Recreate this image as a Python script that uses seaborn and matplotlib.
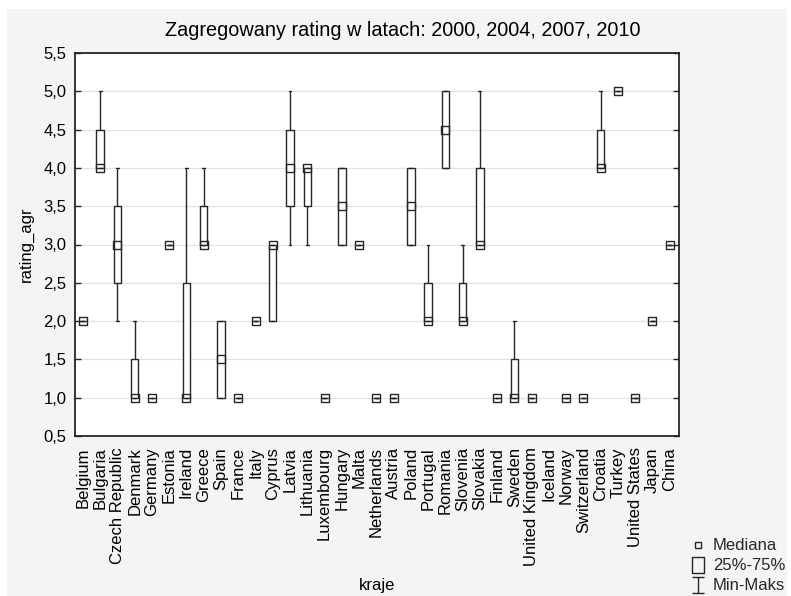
import numpy as np
import pandas as pd
import matplotlib
matplotlib.use("Agg")
import matplotlib.pyplot as plt
from matplotlib.path import Path
from matplotlib.lines import Line2D
from matplotlib.patches import Rectangle
from matplotlib.ticker import FixedLocator, FuncFormatter
import seaborn as sns

# Aggregated rating per country over the years 2000, 2004, 2007, 2010
countries = [
    "Belgium", "Bulgaria", "Czech Republic", "Denmark", "Germany", "Estonia",
    "Ireland", "Greece", "Spain", "France", "Italy", "Cyprus", "Latvia",
    "Lithuania", "Luxembourg", "Hungary", "Malta", "Netherlands", "Austria",
    "Poland", "Portugal", "Romania", "Slovenia", "Slovakia", "Finland",
    "Sweden", "United Kingdom", "Iceland", "Norway", "Switzerland", "Croatia",
    "Turkey", "United States", "Japan", "China",
]
nan = np.nan
r_min = [2, 4, 2, 1, 1, 3, 1, 3, 1, 1, 2, 2, 3, 3, 1, 3, 3, 1, 1, 3, 2, 4, 2, 3,
         1, 1, 1, nan, 1, 1, 4, 5, 1, 2, 3]
r_q1 = [2, 4, 2.5, 1, 1, 3, 1, 3, 1, 1, 2, 2, 3.5, 3.5, 1, 3, 3, 1, 1, 3, 2, 4,
        2, 3, 1, 1, 1, nan, 1, 1, 4, 5, 1, 2, 3]
r_med = [2, 4, 3, 1, 1, 3, 1, 3, 1.5, 1, 2, 3, 4, 4, 1, 3.5, 3, 1, 1, 3.5, 2,
         4.5, 2, 3, 1, 1, 1, nan, 1, 1, 4, 5, 1, 2, 3]
r_q3 = [2, 4.5, 3.5, 1.5, 1, 3, 2.5, 3.5, 2, 1, 2, 3, 4.5, 4, 1, 4, 3, 1, 1, 4,
        2.5, 5, 2.5, 4, 1, 1.5, 1, nan, 1, 1, 4.5, 5, 1, 2, 3]
r_max = [2, 5, 4, 2, 1, 3, 4, 4, 2, 1, 2, 3, 5, 4, 1, 4, 3, 1, 1, 4, 3, 5, 3, 5,
         1, 2, 1, nan, 1, 1, 5, 5, 1, 2, 3]

y_ticks = [0.5, 1.0, 1.5, 2.0, 2.5, 3.0, 3.5, 4.0, 4.5, 5.0, 5.5]

title = "Zagregowany rating w latach: 2000, 2004, 2007, 2010"
x_title = "kraje"
y_title = "rating_agr"
legend_labels = ["Mediana", "25%-75%", "Min-Maks"]

# Five-number summary in long form: the box spans q1..q3, whiskers min..max
rows = []
for i, c in enumerate(countries):
    for v in (r_min[i], r_q1[i], r_med[i], r_q3[i], r_max[i]):
        if not np.isnan(v):
            rows.append((c, v))
df = pd.DataFrame(rows, columns=["kraj", "rating"])
med_df = pd.DataFrame({"kraj": countries, "rating": r_med}).dropna()

sns.set_theme(style="white")
plt.rcParams["font.family"] = ["Liberation Sans", "DejaVu Sans"]
plt.rcParams["font.size"] = 12

W, H = 791, 596
fig = plt.figure(figsize=(W / 100, H / 100), dpi=100, facecolor="white")
fig.patches.append(Rectangle((7 / W, 0), (W - 11) / W, 1 - 9 / H,
                             transform=fig.transFigure, facecolor="#f4f4f4",
                             edgecolor="none", zorder=-10))
ax = fig.add_axes([75 / W, 1 - 436 / H, 604 / W, 383 / H])
ax.set_facecolor("white")

ink = "#262626"
sns.boxplot(data=df, x="kraj", y="rating", order=countries, whis=(0, 100),
            width=0.43, color="white", saturation=1, linecolor=ink,
            linewidth=1.0, capwidths=0.16, medianprops={"visible": False},
            showfliers=False, ax=ax, zorder=3)

# Median as an open square
med_marker = Path([(-0.55, -0.47), (0.55, -0.47), (0.55, 0.47),
                   (-0.55, 0.47), (-0.55, -0.47)],
                  [Path.MOVETO, Path.LINETO, Path.LINETO, Path.LINETO,
                   Path.CLOSEPOLY])
sns.pointplot(data=med_df, x="kraj", y="rating", order=countries,
              errorbar=None, linestyle="none", marker=med_marker,
              markersize=6.3, markerfacecolor="none", markeredgecolor=ink,
              markeredgewidth=1.0, color=ink, ax=ax, zorder=4)

ax.set_xlim(-0.46, 34.54)
ax.set_ylim(0.5, 5.5)

# Axes, grid and ticks
ax.yaxis.set_major_locator(FixedLocator(y_ticks))
ax.yaxis.set_major_formatter(FuncFormatter(lambda v, p: f"{v:.1f}".replace(".", ",")))
ax.grid(axis="y", color="#e2e2e2", linewidth=0.9, zorder=0)
ax.grid(axis="x", visible=False)
ax.set_axisbelow(True)

ax.xaxis.set_major_locator(FixedLocator(range(len(countries))))
ax.set_xticklabels(countries, rotation=90)
ax.xaxis.set_minor_locator(FixedLocator(range(0, len(countries), 2)))
ax.tick_params(axis="x", which="major", length=0, pad=8, labelsize=12,
               labelcolor="black")
ax.tick_params(axis="x", which="minor", direction="in", length=4, width=1,
               color=ink, top=True, bottom=True)
ax.tick_params(axis="y", which="major", direction="in", length=4, width=1,
               color=ink, left=True, right=True, pad=6, labelsize=12,
               labelcolor="black")

for s in ax.spines.values():
    s.set_visible(True)
    s.set_color(ink)
    s.set_linewidth(1.3)

ax.set_xlabel(x_title, fontsize=12, color="black")
ax.set_ylabel(y_title, fontsize=12, color="black")
ax.xaxis.set_label_coords(0.5, -0.371)
ax.xaxis.label.set_va("top")
ax.yaxis.set_label_coords(-0.068, 0.5)

fig.text(403 / W, 1 - 30 / H, title, ha="center", va="center", fontsize=14.3,
         color="black")

# Legend
rect_marker = Path([(-0.33, -0.5), (0.33, -0.5), (0.33, 0.5), (-0.33, 0.5),
                    (-0.33, -0.5)],
                   [Path.MOVETO, Path.LINETO, Path.LINETO, Path.LINETO,
                    Path.CLOSEPOLY])
whisk_marker = Path([(-0.4, -0.5), (0.4, -0.5), (0, -0.5), (0, 0.5),
                     (-0.4, 0.5), (0.4, 0.5)],
                    [Path.MOVETO, Path.LINETO, Path.MOVETO, Path.LINETO,
                     Path.MOVETO, Path.LINETO])
handles = [
    Line2D([], [], linestyle="none", marker="s", markersize=5,
           markerfacecolor="none", markeredgecolor=ink, markeredgewidth=1.0),
    Line2D([], [], linestyle="none", marker=rect_marker, markersize=12.2,
           markerfacecolor="none", markeredgecolor=ink, markeredgewidth=1.0),
    Line2D([], [], linestyle="none", marker=whisk_marker, markersize=11.5,
           markerfacecolor="none", markeredgecolor=ink, markeredgewidth=1.0),
]
fig.legend(handles, legend_labels, loc="upper left",
           bbox_to_anchor=(689.6 / W, 1 - 538.5 / H), frameon=False,
           borderaxespad=0, borderpad=0, labelspacing=0.3, handlelength=1.0,
           handletextpad=0.4, fontsize=12)

fig.savefig("out.png", dpi=100, facecolor=fig.get_facecolor())
